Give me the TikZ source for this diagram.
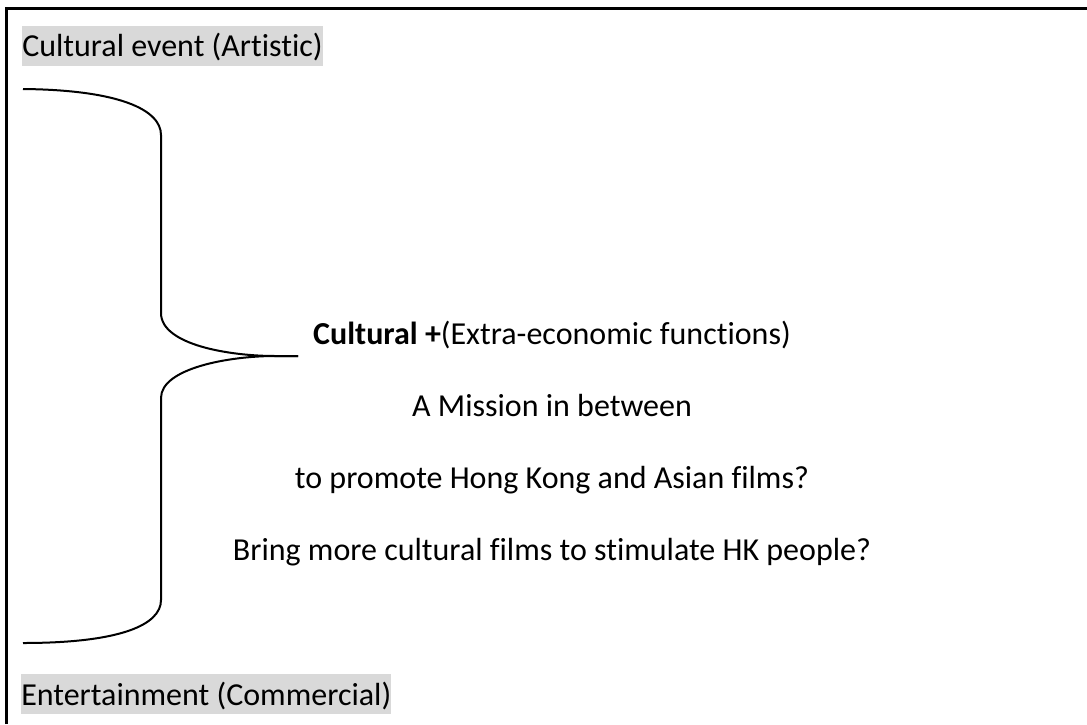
\documentclass[tikz,border=0pt]{standalone}
\usepackage{fontspec}
\setmainfont{Carlito}[Ligatures=NoCommon]
\begin{document}
\begin{tikzpicture}[x=0.75pt,y=-0.75pt]
	\tikzstyle{tag} = [fill=black!15,inner sep=0pt,text height=23pt,text depth=7pt,anchor=base west,font=\fontsize{24}{29}\selectfont]
	\tikzstyle{textline} = [anchor=base,inner sep=0pt,font=\fontsize{24}{29}\selectfont]
	\useasboundingbox (0,0) rectangle (1087,724);
	\draw[line width=2.25pt] (6,724) -- (6,9) -- (1087,9);
	\node[tag](artistic)at(22,57){Cultural event (Artistic)};
	\node[tag](commercial)at(21,705){Entertainment (Commercial)};
	\node[textline](plus)at(552,344){\textbf{Cultural +}(Extra-economic functions)};
	\node[textline](mission)at(552,416){A Mission in between};
	\node[textline](promote)at(552,488){to promote Hong Kong and Asian films?};
	\node[textline](bring)at(552,560){Bring more cultural films to stimulate HK people?};
	\coordinate (tip) at (298,356);
	\draw[line width=1.5pt] (23,89) .. controls (120,90) and (161,110) .. (161,135)
	-- (161,313) .. controls (161,345) and (230,356) .. (275,356) -- (tip);
	\draw[line width=1.5pt] (tip) -- (275,356) .. controls (230,356) and (161,368) .. (161,398)
	-- (161,600) .. controls (161,625) and (120,643) .. (23,643);
\end{tikzpicture}
\end{document}
